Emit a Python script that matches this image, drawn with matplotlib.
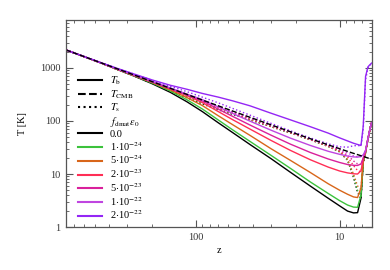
import matplotlib
matplotlib.use('Agg')
import matplotlib.pyplot as plt
from matplotlib.lines import Line2D
from matplotlib.ticker import FixedLocator, FixedFormatter, NullFormatter

# Redshifts onde as curvas foram lidas
z = [800, 600, 450, 350, 270, 200, 150, 115, 90, 70, 55, 42, 30, 22, 16, 12, 10,
     8.8, 8.0, 7.5, 7.1, 6.85, 6.6, 6.35, 6.15, 6.0]

# Temperatura da CMB
t_cmb = [2183, 1638, 1229, 956.5, 738.5, 547.7, 411.5, 316.1, 248.0, 193.5, 152.6, 117.2, 84.5,
         62.7, 46.3, 35.4, 30.0, 26.7, 24.5, 23.2, 22.1, 21.4, 20.7, 20.0, 19.5, 19.1]

# Temperatura do gas T_b para cada f_dmat*eps_0
tb_0 = [2183, 1633, 1218, 928, 705, 500, 345, 229, 150, 93, 59.5, 36, 19.5,
        10.8, 5.94, 3.49, 2.51, 2.0, 1.85, 1.87, 3.5, 17, 26, 46, 70, 92]
tb_1e24 = [2183, 1634, 1220, 933, 712, 515, 366, 250, 168, 105, 67, 41.2, 22.5,
           12.8, 7.1, 4.3, 3.15, 2.6, 2.38, 2.36, 4, 17.5, 26, 46, 70, 92]
tb_5e24 = [2183, 1635, 1222, 938, 720, 530, 385, 275, 195, 126, 84, 53.5, 30,
           18.1, 10.7, 6.55, 4.95, 4.15, 3.7, 3.6, 5.5, 18, 26.5, 46, 70, 92]
tb_2e23 = [2183, 1636, 1224, 943, 728, 540, 400, 300, 222, 151, 104.5, 70.3, 43,
           27.9, 18.6, 13.5, 11.4, 10.5, 10.1, 10.0, 11.5, 19, 27, 46.5, 70, 92]
tb_5e23 = [2183, 1637, 1226, 947, 735, 546, 408, 308, 238, 168, 120.6, 83.8, 54,
           36.6, 25.5, 19.2, 16.5, 15.1, 14.6, 14.5, 15.5, 20, 27.5, 47, 70.5, 92]
tb_1e22 = [2183, 1638, 1228, 952, 742, 553, 418, 320, 252, 184.7, 137.3, 99.2, 67,
           47.5, 34.6, 26.8, 23.5, 21.8, 21, 20.8, 21.5, 23, 28, 47, 71, 92]
tb_2e22 = [2183, 1642, 1240, 975, 770, 590, 470, 395, 330, 282, 238, 193, 140,
           105, 78, 59, 48, 42, 38, 36, 34.5, 80, 690, 1050, 1150, 1230]

# Temperatura de spin T_s para cada f_dmat*eps_0
ts_0 = [2183, 1633, 1218, 929, 708, 509, 368, 273, 209, 163, 132, 105, 78,
        59.6, 44.3, 33.2, 26.2, 18.1, 8.6, 4.5, 3.4, 16, 25, 45, 69, 91]
ts_1e24 = [2183, 1634, 1220, 934, 715, 521, 382, 283, 216, 167, 134, 106, 78.3,
           59.7, 44.3, 33.2, 26.2, 18.3, 9.0, 4.9, 3.8, 16.5, 25, 45, 69, 91]
ts_5e24 = [2183, 1635, 1222, 939, 722, 533, 394, 296, 227, 173, 137.5, 107.6, 79.1,
           60, 44.5, 33.4, 26.5, 18.8, 9.9, 5.95, 5.2, 17, 25.5, 45, 69, 91]
ts_2e23 = [2183, 1636, 1224, 943, 729, 541, 404, 308, 238, 181, 142, 110, 80.4,
           60.6, 44.9, 33.9, 27.4, 21, 14.4, 11.6, 11, 18.5, 26, 45.5, 69, 91]
ts_5e23 = [2183, 1637, 1226, 947, 735, 546, 409, 312, 244, 186, 145.6, 112, 81.5,
           61.1, 45.3, 34.3, 28.1, 22.6, 17.6, 15.5, 15.2, 19.5, 27, 46, 69.5, 91]
ts_1e22 = [2183, 1638, 1228, 952, 742, 552, 416, 318, 250, 191, 149, 114.5, 82.8,
           61.8, 45.7, 34.8, 29.1, 25, 22, 21.1, 21.3, 22.5, 27.5, 46, 70, 91]
ts_2e22 = [2183, 1642, 1240, 974, 767, 581, 450, 356, 281, 220, 171, 128.6, 90.1,
           65.2, 47.9, 37.1, 32.5, 32.1, 34, 34.5, 33.9, 70, 600, 1000, 1120, 1200]

rotulos = ['0.0', r'1$\cdot$10$^{-24}$', r'5$\cdot$10$^{-24}$', r'2$\cdot$10$^{-23}$',
           r'5$\cdot$10$^{-23}$', r'1$\cdot$10$^{-22}$', r'2$\cdot$10$^{-22}$']
cores = ['black', '#3cc23c', '#d8661a', '#ff2e55', '#d9209c', '#bf45e0', '#9426f5']

tbs = [tb_0, tb_1e24, tb_5e24, tb_2e23, tb_5e23, tb_1e22, tb_2e22]
tss = [ts_0, ts_1e24, ts_5e24, ts_2e23, ts_5e23, ts_1e22, ts_2e22]

plt.rcParams['font.family'] = ['Liberation Serif', 'DejaVu Serif']
plt.rcParams['mathtext.fontset'] = 'stix'
plt.rcParams['font.size'] = 7.5

fig = plt.figure(figsize=(3.9, 2.7), dpi=100)
ax = fig.add_axes([0.169, 0.159, 0.7836, 0.767])

# Curvas: T_s pontilhado, T_b solido, T_CMB tracejado
for tb, ts, cor in zip(tbs, tss, cores):
    ax.plot(z, ts, ':', color=cor, lw=1.0)
    ax.plot(z, tb, '-', color=cor, lw=1.0)
ax.plot(z, t_cmb, '--', color='black', lw=1.0)

ax.set_xscale('log')
ax.set_yscale('log')
ax.set_xlim(800, 6)
ax.set_ylim(1, 8000)

ax.xaxis.set_major_locator(FixedLocator([100, 10]))
ax.xaxis.set_major_formatter(FixedFormatter(['100', '10']))
ax.xaxis.set_minor_locator(FixedLocator([800, 700, 600, 500, 400, 300, 200,
                                         90, 80, 70, 60, 50, 40, 30, 20, 9, 8, 7, 6]))
ax.xaxis.set_minor_formatter(NullFormatter())
ax.yaxis.set_major_locator(FixedLocator([1, 10, 100, 1000]))
ax.yaxis.set_major_formatter(FixedFormatter(['1', '10', '100', '1000']))
ax.yaxis.set_minor_formatter(NullFormatter())

for lado in ax.spines.values():
    lado.set_color('#555555')
    lado.set_linewidth(0.9)
ax.tick_params(which='both', direction='in', top=True, right=True, color='#555555', labelcolor='#333333')
ax.tick_params(which='major', length=5, width=0.8, pad=4)
ax.tick_params(which='minor', length=2.5, width=0.6)

ax.set_xlabel('z', labelpad=3)
ax.set_ylabel('T [K]', labelpad=9)

# Legenda
handles = [Line2D([], [], color='black', lw=1.5, ls='-'),
           Line2D([], [], color='black', lw=1.5, ls='--'),
           Line2D([], [], color='black', lw=1.5, ls=':'),
           Line2D([], [], color='none')]
labels = [r'$T_{\rm b}$', r'$T_{\rm CMB}$', r'$T_{\rm s}$', r'$f_{\rm dmat}\epsilon_0$']
for rotulo, cor in zip(rotulos, cores):
    handles.append(Line2D([], [], color=cor, lw=1.5))
    labels.append(rotulo)

ax.legend(handles, labels, loc='upper left', bbox_to_anchor=(0.039, 0.735), frameon=False,
          borderaxespad=0, borderpad=0, handlelength=2.3, handletextpad=0.75,
          labelspacing=0.08, fontsize=7.5)

fig.savefig('out.png', dpi=100)
